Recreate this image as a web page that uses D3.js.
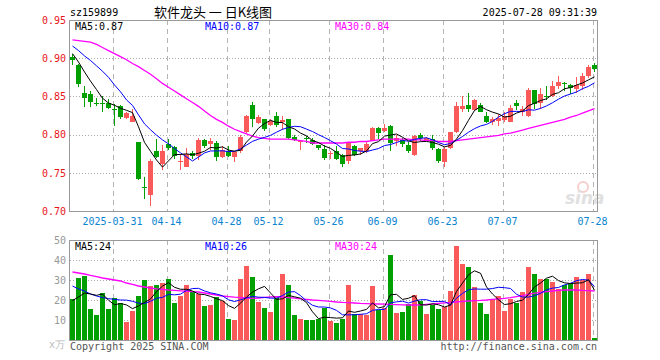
<!DOCTYPE html>
<html>
<head>
<meta charset="utf-8">
<script src="https://d3js.org/d3.v7.min.js"></script>
<style>
  body { margin:0; background:#fff; }
  text { font-family: "DejaVu Sans Mono", monospace; font-size:10px; }
  .title { font-family: "Noto Sans CJK SC", sans-serif; font-size:13px; }
  .grid { stroke:#aaa; stroke-dasharray:1,2; shape-rendering:crispEdges; }
  .vgrid { stroke:#b4b4b4; stroke-dasharray:5,4; shape-rendering:crispEdges; }
  .frame { fill:none; stroke:#999; shape-rendering:crispEdges; }
  .axis path, .axis line { display:none; }
  .ylab text { fill:#e8141a; }
  .vlab text { fill:#999; }
  .dlab { fill:#0a84d0; }
  rect, .wick { shape-rendering:crispEdges; }
</style>
</head>
<body>
<script>
var dates = [
  "03-20","03-21","03-24","03-25","03-26","03-27","03-28","03-31",
  "04-01","04-02","04-03","04-07","04-08","04-09","04-10","04-11","04-14",
  "04-15","04-16","04-17","04-18","04-21","04-22","04-23","04-24","04-25","04-28",
  "04-29","04-30","05-06","05-07","05-08","05-09","05-12",
  "05-13","05-14","05-15","05-16","05-19","05-20","05-21","05-22","05-23","05-26",
  "05-27","05-28","05-29","05-30","06-03","06-04","06-05","06-06","06-09",
  "06-10","06-11","06-12","06-13","06-16","06-17","06-18","06-19","06-20","06-23",
  "06-24","06-25","06-26","06-27","06-30","07-01","07-02","07-03","07-04","07-07",
  "07-08","07-09","07-10","07-11","07-14","07-15","07-16","07-17","07-18",
  "07-21","07-22","07-23","07-24","07-25","07-28"
];
var tickDates = ["03-31","04-14","04-28","05-12","05-26","06-09","06-23","07-07","07-28"];
var tickLabels = ["2025-03-31","04-14","04-28","05-12","05-26","06-09","06-23","07-07","07-28"];
var priceTicks = [0.70, 0.75, 0.80, 0.85, 0.90, 0.95];
var volTicks = [10, 20, 30, 40, 50];

var open = [
  .902,.891,.854,.853,.842,.841,.841,.834,.837,.822,
  .817,.790,.732,.721,.779,.761,.788,.784,.765,.758,
  .776,.772,.793,.788,.789,.771,.779,.771,.779,.804,
  .839,.815,.820,.813,.825,.817,.820,.797,.790,.795,
  .793,.786,.781,.775,.778,.773,.765,.785,.778,.778,
  .792,.809,.805,.811,.791,.793,.786,.773,.799,.792,
  .794,.781,.764,.782,.803,.834,.839,.832,.839,.825,
  .817,.818,.819,.817,.842,.830,.824,.858,.841,.850,
  .850,.864,.867,.865,.860,.863,.877,.891];
var high = [
  .906,.893,.864,.857,.848,.851,.847,.840,.839,.830,
  .833,.790,.744,.768,.794,.786,.794,.785,.775,.783,
  .778,.795,.794,.796,.791,.785,.785,.778,.799,.826,
  .843,.826,.821,.820,.830,.825,.821,.800,.793,.798,
  .795,.787,.787,.778,.785,.774,.790,.787,.783,.791,
  .810,.810,.814,.812,.799,.795,.790,.799,.802,.797,
  .799,.782,.784,.804,.843,.851,.855,.846,.842,.829,
  .823,.827,.829,.839,.845,.837,.861,.859,.861,.864,
  .870,.877,.869,.866,.875,.881,.891,.894];
var low = [
  .891,.862,.836,.836,.837,.829,.834,.811,.821,.821,
  .816,.741,.716,.707,.769,.754,.780,.768,.754,.757,
  .768,.767,.782,.780,.765,.769,.771,.764,.776,.802,
  .810,.814,.805,.811,.810,.806,.794,.791,.780,.789,
  .786,.780,.767,.768,.767,.758,.761,.772,.773,.776,
  .791,.794,.804,.779,.785,.784,.776,.772,.791,.791,
  .780,.763,.758,.781,.802,.830,.829,.831,.829,.815,
  .813,.811,.817,.816,.832,.825,.823,.833,.833,.845,
  .849,.860,.857,.853,.854,.859,.874,.882];
var close = [
  .897,.866,.848,.843,.841,.840,.835,.833,.823,.828,
  .825,.742,.731,.765,.771,.778,.783,.772,.766,.775,
  .772,.793,.785,.791,.771,.780,.772,.777,.797,.825,
  .820,.823,.807,.818,.812,.819,.795,.793,.791,.794,
  .788,.782,.770,.776,.768,.761,.789,.773,.782,.788,
  .809,.802,.809,.789,.795,.788,.778,.798,.795,.796,
  .782,.766,.781,.804,.838,.837,.834,.845,.830,.817,
  .821,.822,.825,.835,.838,.834,.858,.840,.853,.849,
  .863,.869,.866,.861,.865,.877,.889,.886];
// volume in 万
var volume = [
  20.5,31,32.2,15.5,12.5,23.7,15.5,21,18.5,9,
  14.5,22,30,27,27.5,28.3,30.5,18.5,22,27.5,
  24,23,17,17.5,21.5,19.5,10.5,10,30.5,37,
  31.5,19,16,14,21,33,27.5,12.5,10.5,10,
  10,10.5,16,9.5,8.7,10.7,27.5,12.8,12.8,12.7,
  27,15,16,42.5,13.7,14.2,18,22.5,19.7,13,
  17.3,15.7,16.7,24.5,47.2,38.2,36.5,26.5,18.5,13,
  20.5,22,14.7,20.5,18.5,24,36.5,33,30.5,30.5,
  29,25.5,27.5,28.7,31.5,30,33,1];

// moving averages at the left edge need history before the window
var ma5Head = [.906,.895,.882,.870];
var ma10Head = [.916,.910,.903,.897,.890,.883,.875,.865,.856];
var ma30 = [
  .924,.923,.922,.921,.918,.914,.910,.906,.902,.898,
  .893,.889,.884,.879,.873,.867,.862,.857,.852,.847,
  .842,.837,.831,.825,.820,.816,.811,.807,.804,.801,
  .798,.796,.795,.794,.794,.794,.794,.793,.792,.791,
  .789,.789,.789,.789,.789,.789,.790,.790,.791,.791,
  .792,.793,.794,.794,.794,.794,.794,.793,.793,.792,
  .792,.791,.791,.791,.792,.793,.794,.795,.796,.797,
  .798,.799,.801,.802,.804,.806,.808,.810,.812,.814,
  .816,.818,.820,.823,.825,.828,.831,.834];
var volMa5Head = [19.7,21.5,23.5,23];
var volMa10Head = [27,25.5,24.5,23,22,21.2,20.7,20.3,20];
var volMa30 = [
  34,33.5,33,32.3,31.7,31,30.5,30,29.5,28.5,
  27.8,27,26.5,26,25.6,25.3,25,24.8,24.6,24.4,
  24.2,24,23.5,23,22.5,22,21.7,21.4,21.2,21,
  20.8,21,21.3,21.6,21.7,21.5,21.2,21,20.6,20.3,
  20,19.8,19.6,19.3,19,18.8,18.7,18.5,18.3,18.2,
  18.1,18,17.9,17.8,17.7,17.6,17.5,17.5,17.6,17.8,
  18,18.3,18.6,18.8,19,19.3,19.5,19.7,19.8,20,
  20.3,20.6,20.8,21.2,21.7,22.2,22.8,23.4,23.8,24.2,
  24.5,24.8,25,25,25,24.8,24.7,24.5];

function movingAvg(vals, n, head) {
  return vals.map(function(v, i) {
    if (i < n - 1) return head[i];
    return d3.mean(vals.slice(i - n + 1, i + 1));
  });
}
var ma5 = movingAvg(close, 5, ma5Head),
    ma10 = movingAvg(close, 10, ma10Head),
    volMa5 = movingAvg(volume, 5, volMa5Head),
    volMa10 = movingAvg(volume, 10, volMa10Head);

var W = 660, H = 360,
    left = 69.5, right = 597.5,
    red = "#fa5a5a", green = "#00a000";

var svg = d3.select("body").append("svg").attr("width", W).attr("height", H);

var x = d3.scaleBand().domain(dates).range([left, left + dates.length * 6]);
var y = d3.scaleLinear().domain([0.70, 0.95]).range([211, 20]);
var yv = d3.scaleLinear().domain([0, 50]).range([340, 240]);
var cx = function(i) { return x(dates[i]) + 3; };
var idx = d3.range(dates.length);

// header
svg.append("text").attr("x", 70).attr("y", 16).text("sz159899");
svg.append("text").attr("class", "title").attr("x", 213).attr("y", 17)
  .attr("text-anchor", "middle").text("软件龙头 一 日K线图");
svg.append("text").attr("x", 597).attr("y", 16).attr("text-anchor", "end")
  .text("2025-07-28 09:31:39");

// grids
svg.selectAll(".pgrid").data(priceTicks.slice(1, -1)).enter().append("line")
  .attr("class", "grid")
  .attr("x1", left).attr("x2", right)
  .attr("y1", function(d) { return Math.round(y(d)) + 0.5; })
  .attr("y2", function(d) { return Math.round(y(d)) + 0.5; });
svg.selectAll(".vg").data(volTicks.slice(0, -1)).enter().append("line")
  .attr("class", "grid")
  .attr("x1", left).attr("x2", right)
  .attr("y1", function(d) { return yv(d) + 0.5; })
  .attr("y2", function(d) { return yv(d) + 0.5; });
tickDates.forEach(function(d) {
  var xx = Math.round(x(d) + 1) + 0.5;
  svg.append("line").attr("class", "vgrid").attr("x1", xx).attr("x2", xx).attr("y1", 20).attr("y2", 211);
  svg.append("line").attr("class", "vgrid").attr("x1", xx).attr("x2", xx).attr("y1", 240).attr("y2", 340);
});

// watermark
var wm = svg.append("g").attr("opacity", 0.55);
wm.append("circle").attr("cx", 583).attr("cy", 187).attr("r", 5).attr("fill", "none")
  .attr("stroke", "#f2a8a8").attr("stroke-width", 2);
wm.append("text").attr("x", 565).attr("y", 204)
  .style("font-family", "DejaVu Sans").style("font-size", "17px")
  .style("font-style", "italic").style("font-weight", "bold")
  .attr("fill", "#c8c8c8").text("sina");

// candles
var cg = svg.append("g");
cg.selectAll(".wick").data(idx).enter().append("line")
  .attr("class", "wick")
  .attr("x1", cx).attr("x2", cx)
  .attr("y1", function(i) { return y(high[i]); })
  .attr("y2", function(i) { return y(low[i]); })
  .attr("stroke", function(i) { return close[i] >= open[i] ? red : green; });
cg.selectAll(".body").data(idx).enter().append("rect")
  .attr("x", function(i) { return x(dates[i]) + 0.5; })
  .attr("width", 5)
  .attr("y", function(i) { return y(Math.max(open[i], close[i])); })
  .attr("height", function(i) { return Math.max(1, Math.abs(y(open[i]) - y(close[i]))); })
  .attr("fill", function(i) { return close[i] >= open[i] ? red : green; });

// volume bars
svg.append("g").selectAll("rect").data(idx).enter().append("rect")
  .attr("x", function(i) { return x(dates[i]) + 0.5; })
  .attr("width", 5)
  .attr("y", function(i) { return yv(volume[i]); })
  .attr("height", function(i) { return 340 - yv(volume[i]); })
  .attr("fill", function(i) { return close[i] >= open[i] ? red : green; });

// MA lines
function maLine(vals, sc, color, w) {
  svg.append("path").datum(idx)
    .attr("fill", "none").attr("stroke", color).attr("stroke-width", w)
    .attr("d", d3.line().x(cx).y(function(i) { return sc(vals[i]); }));
}
maLine(ma30, y, "#ff00ff", 1.3);
maLine(ma10, y, "#0000ff", 1);
maLine(ma5, y, "#000", 1);
maLine(volMa30, yv, "#ff00ff", 1.3);
maLine(volMa10, yv, "#0000ff", 1);
maLine(volMa5, yv, "#000", 1);

// frames
svg.append("rect").attr("class", "frame").attr("x", left).attr("y", 20.5)
  .attr("width", right - left).attr("height", 190.5);
svg.append("rect").attr("class", "frame").attr("x", left).attr("y", 240.5)
  .attr("width", right - left).attr("height", 100);

// axes
svg.append("g").attr("class", "axis ylab").attr("transform", "translate(70,0)")
  .call(d3.axisLeft(y).tickValues(priceTicks).tickSize(0).tickPadding(4)
    .tickFormat(d3.format(".2f")));
svg.append("g").attr("class", "axis vlab").attr("transform", "translate(70,0)")
  .call(d3.axisLeft(yv).tickValues(volTicks).tickSize(0).tickPadding(4));
svg.append("text").attr("x", 65).attr("y", 348).attr("text-anchor", "end")
  .attr("fill", "#bbb").text("x万");

svg.selectAll(".dlab").data(tickDates).enter().append("text")
  .attr("class", "dlab")
  .attr("x", function(d) { return x(d) + 1; })
  .attr("y", 225).attr("text-anchor", "middle")
  .text(function(d, i) { return tickLabels[i]; });

// legends
function legend(yy, items) {
  items.forEach(function(it) {
    svg.append("text").attr("x", it[0]).attr("y", yy).attr("fill", it[1]).text(it[2]);
  });
}
legend(30, [[75, "#000", "MA5:0.87"], [205, "#0000ff", "MA10:0.87"], [335, "#ff00ff", "MA30:0.84"]]);
legend(250, [[75, "#000", "MA5:24"], [205, "#0000ff", "MA10:26"], [335, "#ff00ff", "MA30:24"]]);

svg.append("text").attr("x", 70).attr("y", 350).attr("fill", "#555").text("Copyright 2025 SINA.COM");
svg.append("text").attr("x", 597).attr("y", 350).attr("text-anchor", "end").attr("fill", "#555")
  .text("http://finance.sina.com.cn");
</script>
</body>
</html>
